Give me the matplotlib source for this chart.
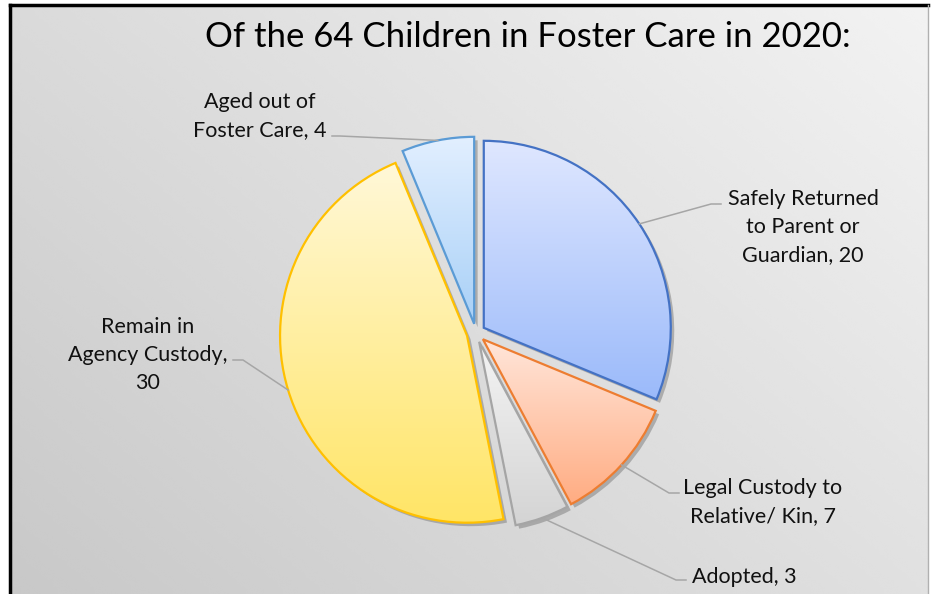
import numpy as np
import matplotlib.pyplot as plt
import matplotlib.patheffects as pe
from matplotlib.colors import LinearSegmentedColormap
from matplotlib.lines import Line2D

#--------------------------------------------------#
#                      Data                        #
#--------------------------------------------------#

title = 'Of the 64 Children in Foster Care in 2020:'
labels = ['Safely Returned\nto Parent or\nGuardian, 20',
          'Legal Custody to\nRelative/ Kin, 7',
          'Adopted, 3',
          'Remain in\nAgency Custody,\n30',
          'Aged out of\nFoster Care, 4']
values = [20, 7, 3, 30, 4]

top_colors = ['#dfe7ff', '#ffe6da', '#f4f4f4', '#fff8d8', '#e2efff']
bottom_colors = ['#9bbafa', '#ffac82', '#d4d4d4', '#ffe566', '#a8d0f7']
edge_colors = ['#4472c4', '#ed7d31', '#a5a5a5', '#ffc000', '#5b9bd5']

#--------------------------------------------------#
#                     Layout                       #
#--------------------------------------------------#

W, H = 940, 594
CX, CY, R = 476, 333, 187   # pie centre and radius in pixels

def to_data(x, y):
    return (x - CX) / R, (CY - y) / R

# label centres and leader elbows, pixels
label_xy = [(803, 227), (763, 502), (744, 577), (148, 355), (260, 116)]
leader_xy = [[(721, 204), (711, 204)],
             [(679, 493), (669, 493)],
             [(686, 580), (676, 580)],
             [(233, 360), (243, 360)],
             [(332, 136), (340, 136)]]

plt.rcParams['font.family'] = ['Lato', 'DejaVu Sans']

fig = plt.figure(figsize=(W / 100, H / 100), dpi=100)
fig.patch.set_facecolor('white')

# background gradient inside the frame
bg = fig.add_axes([10 / W, 0, (928 - 10) / W, (H - 5) / H], zorder=-1)
xx, yy = np.meshgrid(np.linspace(0, 1, 200), np.linspace(0, 1, 200))
shade = 0.785 + 0.095 * xx + 0.07 * yy
bg.imshow(shade, cmap='gray', vmin=0, vmax=1, origin='lower',
          extent=[0, 1, 0, 1], aspect='auto', interpolation='bicubic')
bg.set_axis_off()

# frame
fig.add_artist(Line2D([10 / W, 10 / W], [0, 1 - 5 / H], color='black', lw=2.5))
fig.add_artist(Line2D([10 / W, 928 / W], [1 - 5 / H, 1 - 5 / H], color='black', lw=2.5))
fig.add_artist(Line2D([928 / W, 928 / W], [0, 1 - 5 / H], color='#b0b0b0', lw=1))

#--------------------------------------------------#
#                    Pie chart                     #
#--------------------------------------------------#

half = 300
ax = fig.add_axes([(CX - half) / W, (H - CY - half) / H, 2 * half / W, 2 * half / H])
ax.set_facecolor('none')

explode = [0.05] * len(values)

# shadows
shadows, _ = ax.pie(values, startangle=90, counterclock=False, explode=explode,
                    radius=1, wedgeprops=dict(facecolor='none', edgecolor='none'))
for s in shadows:
    s.set_zorder(1)
    s.set_path_effects([pe.SimplePatchShadow(offset=(2.5, -2.5), shadow_rgbFace='#7a7a7a', alpha=0.5)])

wedges, _ = ax.pie(values, startangle=90, counterclock=False, explode=explode,
                   radius=1, wedgeprops=dict(facecolor='none', linewidth=1.6))

grad = np.linspace(0, 1, 256).reshape(-1, 1)
for i, w in enumerate(wedges):
    w.set_edgecolor(edge_colors[i])
    w.set_zorder(3)
    ext = w.get_path().get_extents()
    cmap = LinearSegmentedColormap.from_list('g%d' % i, [bottom_colors[i], top_colors[i]])
    im = ax.imshow(grad, cmap=cmap, origin='lower', aspect='auto',
                   extent=[ext.x0, ext.x1, ext.y0, ext.y1], zorder=2)
    im.set_clip_path(w)

    # label and leader line
    theta = np.deg2rad((w.theta1 + w.theta2) / 2)
    cx, cy = w.center
    arc = (cx + w.r * np.cos(theta), cy + w.r * np.sin(theta))
    pts = [to_data(*p) for p in leader_xy[i]] + [arc]
    ax.plot([p[0] for p in pts], [p[1] for p in pts], color='#a6a6a6', lw=1.1, zorder=4)
    lx, ly = to_data(*label_xy[i])
    ax.text(lx, ly, labels[i], ha='center', va='center', multialignment='center',
            fontsize=15.5, color='#111111', linespacing=1.5, zorder=5)

ax.set_xlim(-half / R, half / R)
ax.set_ylim(-half / R, half / R)
ax.set_aspect('equal')
ax.set_axis_off()

fig.text(528 / W, 1 - 37 / H, title, ha='center', va='center', fontsize=25, color='black')

plt.savefig('out.png', dpi=100)
